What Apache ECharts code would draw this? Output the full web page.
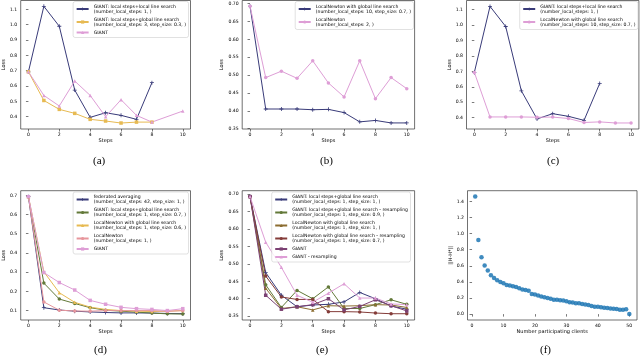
<!DOCTYPE html>
<html>
<head>
<meta charset="utf-8">
<script src="https://cdn.jsdelivr.net/npm/echarts@6/dist/echarts.min.js"></script>
<style>
  html, body { margin: 0; padding: 0; background: #fff; }
  #chart { width: 640px; height: 359px; }
</style>
</head>
<body>
<div id="chart"></div>
<script>
// x values
var steps = [0, 1, 2, 3, 4, 5, 6, 7, 8, 9, 10];
var clients = [];
for (var c = 1; c <= 50; c++) clients.push(c);

// tick labels
var stepTicks = [0, 2, 4, 6, 8, 10];
var lossTicksA = [0.4, 0.5, 0.6, 0.7, 0.8, 0.9, 1.0, 1.1];
var lossTicksB = [0.35, 0.40, 0.45, 0.50, 0.55, 0.60, 0.65, 0.70];
var lossTicksD = [0.1, 0.2, 0.3, 0.4, 0.5, 0.6, 0.7];
var clientTicks = [0, 10, 20, 30, 40, 50];
var normTicks = [0.0, 0.2, 0.4, 0.6, 0.8, 1.0, 1.2, 1.4];

// (a)
var aLocalLocal = [0.693, 1.12, 0.99, 0.574, 0.396, 0.426, 0.409, 0.383, 0.622];
var aLocalGlobal = [0.693, 0.506, 0.448, 0.422, 0.383, 0.372, 0.359, 0.365, 0.365];
var aGiant = [0.693, 0.539, 0.47, 0.633, 0.539, 0.40, 0.511, 0.409, 0.365, null, 0.437];

// (b)
var bNewtonGlobal = [0.693, 0.405, 0.405, 0.405, 0.403, 0.404, 0.395, 0.369, 0.373, 0.366, 0.366];
var bNewton = [0.693, 0.493, 0.511, 0.491, 0.540, 0.478, 0.439, 0.540, 0.434, 0.493, 0.462];

// (c)
var cLocalLocal = [0.693, 1.12, 0.99, 0.574, 0.392, 0.426, 0.409, 0.383, 0.622];
var cNewtonGlobal = [0.693, 0.405, 0.405, 0.405, 0.403, 0.404, 0.395, 0.369, 0.373, 0.366, 0.366];

// (d)
var dFedAvg = [0.693, 0.115, 0.103, 0.097, 0.093, 0.090, 0.088, 0.088, 0.087, 0.085, 0.084];
var dGiantGlobal = [0.693, 0.243, 0.160, 0.137, 0.115, 0.102, 0.097, 0.092, 0.087, 0.083, 0.082];
var dNewtonGlobal = [0.693, 0.302, 0.193, 0.143, 0.118, 0.106, 0.100, 0.097, 0.095, 0.097, 0.100];
var dNewton = [0.693, 0.145, 0.102, 0.098, 0.097, 0.100, 0.100, 0.100, 0.100, 0.096, 0.100];
var dGiant = [0.693, 0.298, 0.246, 0.207, 0.153, 0.133, 0.117, 0.110, 0.106, 0.100, 0.110];

// (e)
var eGiantGlobal = [0.693, 0.475, 0.410, 0.377, 0.382, 0.384, 0.391, 0.418, 0.400, 0.379, 0.370];
var eGiantGlobalRes = [0.693, 0.440, 0.375, 0.424, 0.400, 0.434, 0.372, 0.372, 0.383, 0.397, 0.384];
var eNewtonGlobal = [0.693, 0.430, 0.372, 0.377, 0.368, 0.380, 0.379, 0.380, 0.383, 0.382, 0.375];
var eNewtonGlobalRes = [0.693, 0.465, 0.405, 0.398, 0.398, 0.363, 0.363, 0.362, 0.359, 0.357, 0.357];
var eGiant = [0.693, 0.410, 0.370, 0.377, 0.383, 0.400, 0.368, 0.378, 0.397, 0.380, 0.365];
var eGiantRes = [0.693, 0.562, 0.490, 0.410, 0.390, 0.416, 0.443, 0.402, 0.402, 0.385, 0.383];

// (f)
var hessDiff = [1.46, 0.92, 0.705, 0.605, 0.542, 0.483, 0.45, 0.42, 0.40, 0.382,
  0.362, 0.357, 0.345, 0.336, 0.322, 0.306, 0.300, 0.290, 0.250, 0.245,
  0.230, 0.220, 0.210, 0.200, 0.190, 0.180, 0.180, 0.172, 0.168, 0.160,
  0.147, 0.143, 0.134, 0.134, 0.126, 0.118, 0.113, 0.100, 0.092, 0.092,
  0.084, 0.080, 0.076, 0.071, 0.067, 0.063, 0.055, 0.055, 0.059, 0.0];

var NAVY = '#393b79', ORANGE = '#e7ba52', PINK = '#de9ed6', GREEN = '#637939',
    OLIVE = '#8c6d31', DRED = '#843c39', PURPLE = '#7b4173', SALMON = '#e7969c';
var PLUS = 'path://M4,0H6V4H10V6H6V10H4V6H0V4H4Z';
var FONT = 'DejaVu Sans';

var chart = echarts.init(document.getElementById('chart'));

// make names unique per panel so legends pick the right series
function tag(name, k) { return name + new Array(k + 1).join('\u200b'); }

function pairs(xs, ys) {
  var out = [];
  for (var i = 0; i < ys.length; i++) if (ys[i] != null) out.push([xs[i], ys[i]]);
  return out;
}

function line(name, data, color, symbol, g) {
  return {
    type: 'line', name: name, xAxisIndex: g, yAxisIndex: g,
    data: pairs(steps, data),
    symbol: symbol, symbolSize: symbol === PLUS ? 4 : 3.5,
    lineStyle: { color: color, width: 1 },
    itemStyle: { color: color },
    animation: false
  };
}

function xAx(g, min, max, ticks, name) {
  return {
    type: 'value', gridIndex: g, min: min, max: max,
    name: name, nameLocation: 'middle', nameGap: 9,
    nameTextStyle: { fontFamily: FONT, fontSize: 5, color: '#000' },
    axisLine: { show: false },
    axisTick: { show: true, length: 2.5, lineStyle: { color: '#222', width: 0.6 }, customValues: ticks },
    axisLabel: { fontFamily: FONT, fontSize: 4.6, color: '#000', margin: 3.5, customValues: ticks },
    splitLine: { show: false }
  };
}

function yAx(g, min, max, ticks, digits, name, gap) {
  return {
    type: 'value', gridIndex: g, min: min, max: max,
    name: name, nameLocation: 'middle', nameGap: gap, nameRotate: 90,
    nameTextStyle: { fontFamily: FONT, fontSize: 5, color: '#000' },
    axisLine: { show: false },
    axisTick: { show: true, length: 2.5, lineStyle: { color: '#222', width: 0.6 }, customValues: ticks },
    axisLabel: {
      fontFamily: FONT, fontSize: 4.6, color: '#000', margin: 3.5, customValues: ticks,
      formatter: function (v) { return v.toFixed(digits); }
    },
    splitLine: { show: false }
  };
}

function grid(left, top, width, height) {
  return { left: left, top: top, width: width, height: height, show: true,
    borderColor: '#333', borderWidth: 0.7, backgroundColor: 'transparent' };
}

function legend(names, right, top) {
  return {
    data: names, orient: 'vertical', right: right, top: top,
    itemWidth: 12, itemHeight: 4, itemGap: 3,
    padding: [2.5, 2.5, 2.5, 2.5],
    backgroundColor: 'rgba(255,255,255,0.8)', borderColor: '#ccc', borderWidth: 0.6, borderRadius: 2,
    textStyle: { fontFamily: FONT, fontSize: 4.6, lineHeight: 5, color: '#000' },
    selectedMode: false
  };
}

// series names
var nA1 = tag('GIANT: local steps+local line search\n(number_local_steps: 1, )', 0);
var nA2 = tag('GIANT: local steps+global line search\n(number_local_steps: 3, step_size: 0.3, )', 0);
var nA3 = tag('GIANT', 0);
var nB1 = tag('LocalNewton with global line search\n(number_local_steps: 10, step_size: 0.7, )', 0);
var nB2 = tag('LocalNewton\n(number_local_steps: 2, )', 0);
var nC1 = tag('GIANT: local steps+local line search\n(number_local_steps: 1, )', 1);
var nC2 = tag('LocalNewton with global line search\n(number_local_steps: 10, step_size: 0.7, )', 1);
var nD1 = tag('federated averaging\n(number_local_steps: 42, step_size: 1, )', 0);
var nD2 = tag('GIANT: local steps+global line search\n(number_local_steps: 1, step_size: 0.7, )', 0);
var nD3 = tag('LocalNewton with global line search\n(number_local_steps: 1, step_size: 0.6, )', 0);
var nD4 = tag('LocalNewton\n(number_local_steps: 1, )', 0);
var nD5 = tag('GIANT', 1);
var nE1 = tag('GIANT: local steps+global line search\n(number_local_steps: 1, step_size: 1, )', 0);
var nE2 = tag('GIANT: local steps+global line search - resampling\n(number_local_steps: 1, step_size: 0.9, )', 0);
var nE3 = tag('LocalNewton with global line search\n(number_local_steps: 1, step_size: 1, )', 0);
var nE4 = tag('LocalNewton with global line search - resampling\n(number_local_steps: 1, step_size: 0.7, )', 0);
var nE5 = tag('GIANT', 2);
var nE6 = tag('GIANT - resampling', 0);

var captionStyle = { fontFamily: 'Liberation Serif', fontSize: 11, fill: '#000', textAlign: 'center' };

var option = {
  backgroundColor: '#fff',
  animation: false,
  grid: [
    grid(17.8, 0.5, 172.7, 128.5),
    grid(242.2, 0.5, 172.4, 128.5),
    grid(466.5, 0.5, 172.4, 128.5),
    grid(17.8, 190.7, 172.7, 129.3),
    grid(242.2, 190.7, 172.4, 129.3),
    grid(467.5, 190.7, 169.5, 129.3)
  ],
  xAxis: [
    xAx(0, -0.5, 10.5, stepTicks, 'Steps'),
    xAx(1, -0.5, 10.5, stepTicks, 'Steps'),
    xAx(2, -0.5, 10.5, stepTicks, 'Steps'),
    xAx(3, -0.5, 10.5, stepTicks, 'Steps'),
    xAx(4, -0.5, 10.5, stepTicks, 'Steps'),
    xAx(5, -1.45, 52.45, clientTicks, 'Number participating clients')
  ],
  yAxis: [
    yAx(0, 0.32, 1.158, lossTicksA, 1, 'Loss', 12),
    yAx(1, 0.349, 0.709, lossTicksB, 2, 'Loss', 15),
    yAx(2, 0.327, 1.158, lossTicksA, 1, 'Loss', 12),
    yAx(3, 0.051, 0.724, lossTicksD, 1, 'Loss', 12),
    yAx(4, 0.339, 0.710, lossTicksB, 2, 'Loss', 15),
    yAx(5, -0.073, 1.533, normTicks, 1, '||H-H*||', 14)
  ],
  legend: [
    legend([nA1, nA2, nA3], 451.5, 1.5),
    legend([nB1, nB2], 226.5, 1.5),
    legend([nC1, nC2], 2, 1.5),
    legend([nD1, nD2, nD3, nD4, nD5], 451.5, 192),
    legend([nE1, nE2, nE3, nE4, nE5, nE6], 229.5, 192)
  ],
  series: [
    line(nA1, aLocalLocal, NAVY, PLUS, 0),
    line(nA2, aLocalGlobal, ORANGE, 'rect', 0),
    line(nA3, aGiant, PINK, 'triangle', 0),

    line(nB1, bNewtonGlobal, NAVY, PLUS, 1),
    line(nB2, bNewton, PINK, 'circle', 1),

    line(nC1, cLocalLocal, NAVY, PLUS, 2),
    line(nC2, cNewtonGlobal, PINK, 'circle', 2),

    line(nD1, dFedAvg, NAVY, PLUS, 3),
    line(nD2, dGiantGlobal, GREEN, 'circle', 3),
    line(nD3, dNewtonGlobal, ORANGE, 'triangle', 3),
    line(nD4, dNewton, SALMON, 'circle', 3),
    line(nD5, dGiant, PINK, 'rect', 3),

    line(nE1, eGiantGlobal, NAVY, PLUS, 4),
    line(nE2, eGiantGlobalRes, GREEN, 'circle', 4),
    line(nE3, eNewtonGlobal, OLIVE, 'triangle', 4),
    line(nE4, eNewtonGlobalRes, DRED, 'circle', 4),
    line(nE5, eGiant, PURPLE, 'rect', 4),
    line(nE6, eGiantRes, PINK, 'triangle', 4),

    {
      type: 'scatter', name: 'hess', xAxisIndex: 5, yAxisIndex: 5,
      data: pairs(clients, hessDiff), symbolSize: 4.5,
      itemStyle: { color: '#1f77b4', opacity: 0.85 }
    }
  ],
  graphic: [
    { type: 'text', left: 93, top: 156, style: Object.assign({ text: '(a)' }, captionStyle) },
    { type: 'text', left: 320, top: 156, style: Object.assign({ text: '(b)' }, captionStyle) },
    { type: 'text', left: 547, top: 156, style: Object.assign({ text: '(c)' }, captionStyle) },
    { type: 'text', left: 94, top: 345, style: Object.assign({ text: '(d)' }, captionStyle) },
    { type: 'text', left: 316, top: 345, style: Object.assign({ text: '(e)' }, captionStyle) },
    { type: 'text', left: 540, top: 345, style: Object.assign({ text: '(f)' }, captionStyle) }
  ]
};

chart.setOption(option);
</script>
</body>
</html>
